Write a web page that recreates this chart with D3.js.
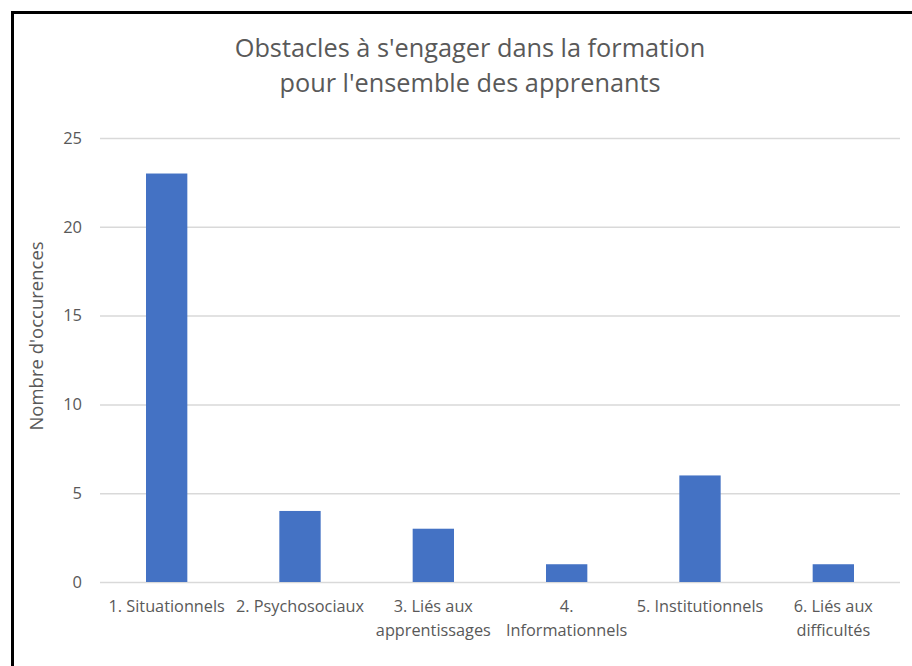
<!DOCTYPE html>
<html>
<head>
<meta charset="utf-8">
<script src="https://cdn.jsdelivr.net/npm/d3@7"></script>
<style>
  body { margin: 0; background: #fff; }
  svg text { font-family: "Open Sans", sans-serif; fill: #595959; }
</style>
</head>
<body>
<svg id="chart" width="912" height="666"></svg>
<script>
// data
var categories = ["1. Situationnels", "2. Psychosociaux", "3. Liés aux\napprentissages",
                  "4.\nInformationnels", "5. Institutionnels", "6. Liés aux\ndifficultés"];
var occurrences = [23, 4, 3, 1, 6, 1];
var yTicks = [0, 5, 10, 15, 20, 25];
var titleLines = ["Obstacles à s'engager dans la formation", "pour l'ensemble des apprenants"];
var yTitle = "Nombre d'occurences";

var svg = d3.select("#chart");

// frame round the chart (right and bottom edges are cut off in the picture)
svg.append("rect")
  .attr("x", 12.5).attr("y", 12.5)
  .attr("width", 1000).attr("height", 1000)
  .attr("fill", "#fff")
  .attr("stroke", "#000")
  .attr("stroke-width", 3);

var plotLeft = 100, plotRight = 900, plotTop = 138, plotBottom = 582;

var x = d3.scaleBand()
  .domain(categories)
  .range([plotLeft, plotRight])
  .paddingInner(0.69)
  .paddingOuter(0.345);

var y = d3.scaleLinear()
  .domain([0, 25])
  .range([plotBottom, plotTop]);

// gridlines + tick labels
var yAxis = svg.append("g")
  .attr("transform", "translate(" + plotLeft + ",0)")
  .call(d3.axisLeft(y).tickValues(yTicks).tickSize(-(plotRight - plotLeft)).tickPadding(18));
yAxis.select(".domain").remove();
yAxis.selectAll(".tick line").attr("stroke", "#d9d9d9").attr("stroke-width", 1.5);
yAxis.selectAll(".tick text")
  .attr("font-size", 16.5)
  .attr("font-family", "'Open Sans', sans-serif")
  .attr("fill", "#595959");

// bars
svg.append("g").selectAll("rect")
  .data(occurrences)
  .enter().append("rect")
  .attr("x", function(d, i){ return x(categories[i]); })
  .attr("y", function(d){ return y(d); })
  .attr("width", x.bandwidth())
  .attr("height", function(d){ return y(0) - y(d); })
  .attr("fill", "#4472c4");

// category labels, wrapped
var xLabels = svg.append("g").selectAll("text")
  .data(categories)
  .enter().append("text")
  .attr("text-anchor", "middle")
  .attr("font-size", 16.3)
  .attr("transform", function(d){ return "translate(" + (x(d) + x.bandwidth() / 2) + ",612)"; });
xLabels.selectAll("tspan")
  .data(function(d){ return d.split("\n"); })
  .enter().append("tspan")
  .attr("x", 0)
  .attr("y", function(d, i){ return i * 23.5; })
  .text(function(d){ return d; });

// title
svg.append("g").selectAll("text")
  .data(titleLines)
  .enter().append("text")
  .attr("x", 470)
  .attr("y", function(d, i){ return 57 + i * 34.5; })
  .attr("text-anchor", "middle")
  .attr("font-size", 25.3)
  .text(function(d){ return d; });

// y axis title
svg.append("text")
  .attr("transform", "translate(43,336) rotate(-90)")
  .attr("text-anchor", "middle")
  .attr("font-size", 18.5)
  .text(yTitle);
</script>
</body>
</html>
